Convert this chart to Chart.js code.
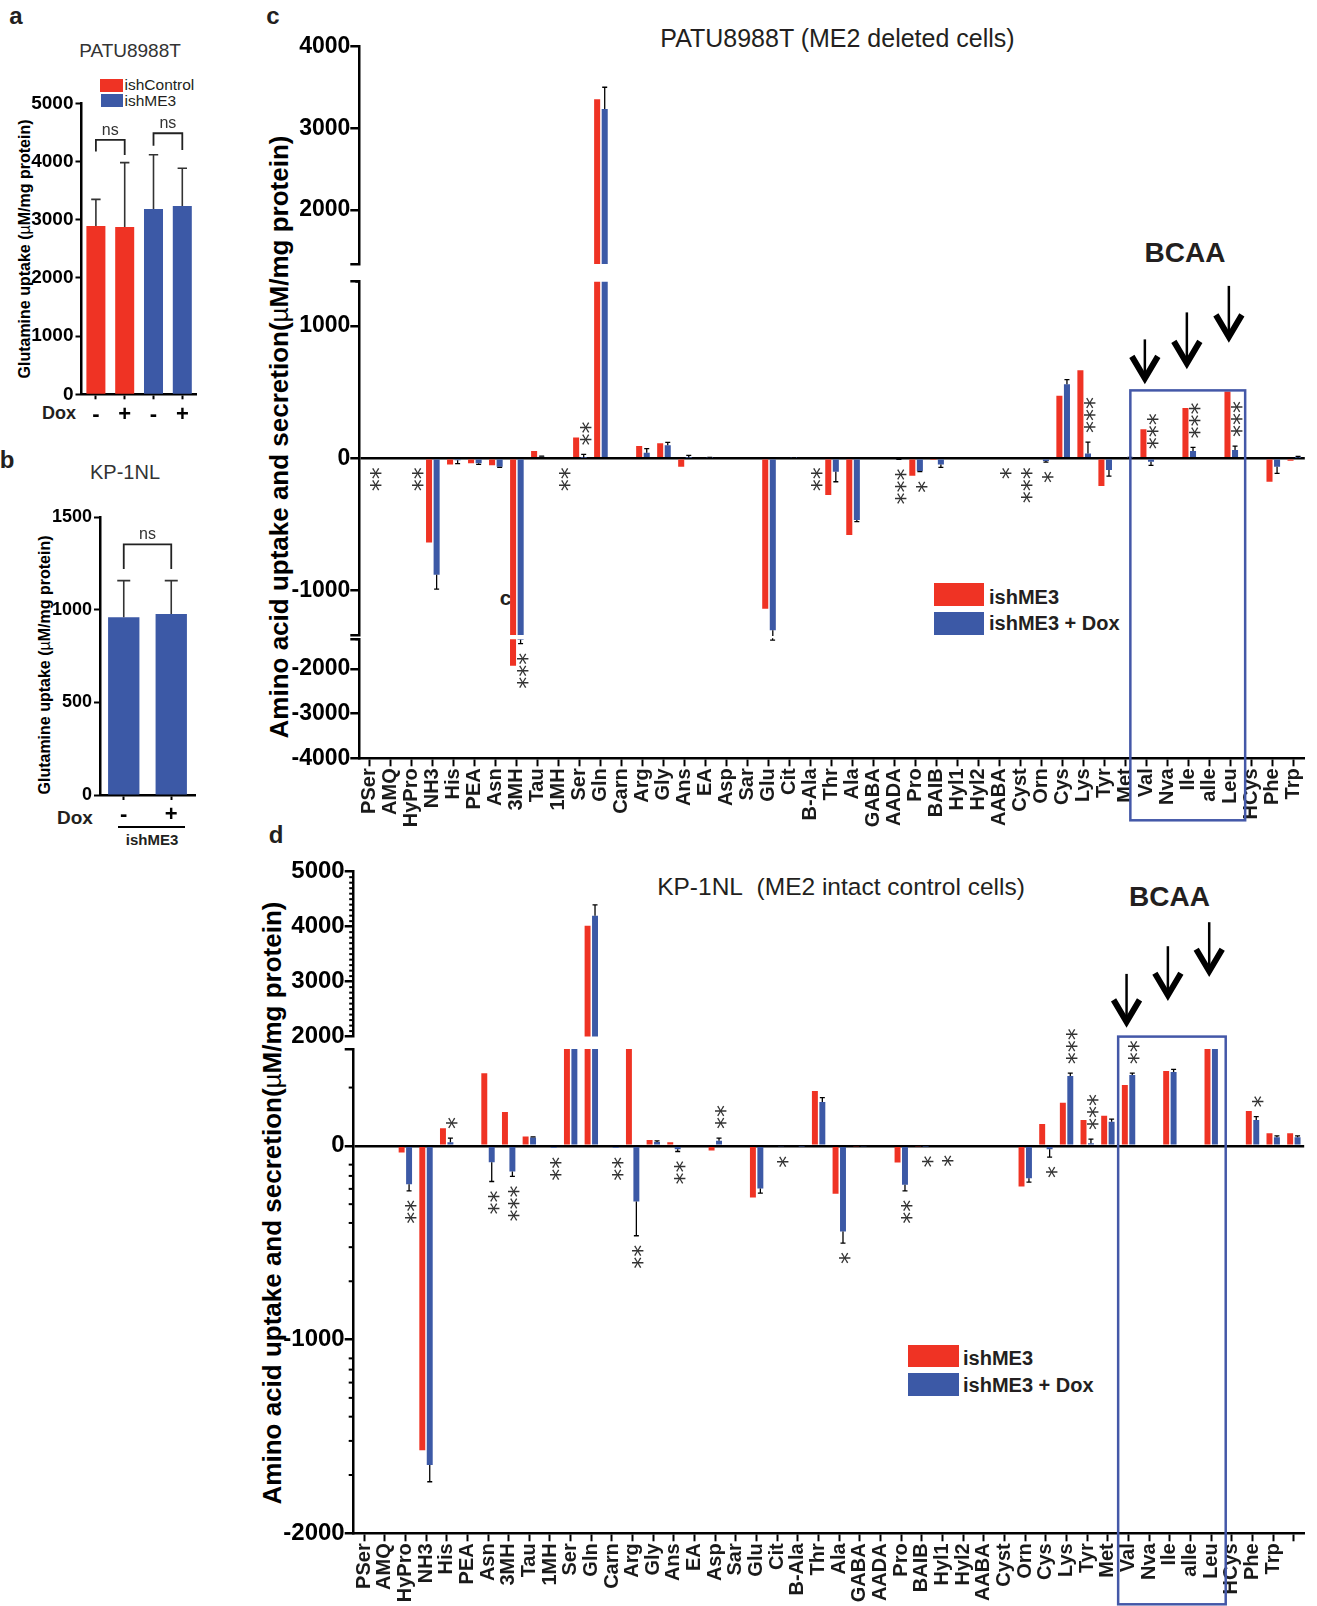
<!DOCTYPE html>
<html lang="en">
<head>
<meta charset="UTF-8" />
<title>Amino acid uptake and secretion</title>
<style>
    body { margin: 0; background: #fff; }
    #page { position: relative; width: 1317px; height: 1606px; overflow: hidden; font-family: "Liberation Sans", Arial, sans-serif; color: #231f20; }
    #page div { position: absolute; white-space: nowrap; line-height: 1; }
    #page canvas { position: absolute; }
    .c { transform: translate(-50%, -50%); }
    .l { transform: translateY(-50%); }
    .v { transform: translate(-50%, -50%) rotate(-90deg); font-weight: bold; color: #000; }
    .mu { font-weight: normal; }
    .b { font-weight: bold; }
</style>
</head>
<body>
<div id="page">
    <!-- panel a -->
    <div class="c b" style="left:16px;top:16px;font-size:24px">a</div>
    <div class="c" style="left:130px;top:50px;font-size:19px;color:#333">PATU8988T</div>
    <div style="left:100px;top:79px;width:23px;height:12.5px;background:#ef3324"></div>
    <div style="left:101px;top:93.5px;width:22px;height:13.5px;background:#3c59a6"></div>
    <div class="l" style="left:124.5px;top:85px;font-size:15.5px">ishControl</div>
    <div class="l" style="left:124.5px;top:100.5px;font-size:15.5px">ishME3</div>
    <div class="v" style="left:25px;top:249px;font-size:16px">Glutamine uptake (<span class="mu">µ</span>M/mg protein)</div>
    <div class="l b" style="left:42px;top:413px;font-size:18px">Dox</div>

    <!-- panel b -->
    <div class="c b" style="left:7px;top:460px;font-size:24px">b</div>
    <div class="c" style="left:125px;top:472px;font-size:20px;color:#333">KP-1NL</div>
    <div class="v" style="left:45px;top:665px;font-size:16px">Glutamine uptake (<span class="mu">µ</span>M/mg protein)</div>
    <div class="l b" style="left:57px;top:817px;font-size:19px">Dox</div>
    <div style="left:118px;top:826px;width:67px;height:1.5px;background:#000"></div>
    <div class="c b" style="left:152px;top:839px;font-size:15px">ishME3</div>

    <!-- panel c -->
    <div class="c b" style="left:273px;top:16px;font-size:24px">c</div>
    <div class="c b" style="left:505.5px;top:597px;font-size:21px">c</div>
    <div class="c" style="left:837.5px;top:38px;font-size:25px">PATU8988T (ME2 deleted cells)</div>
    <div class="c b" style="left:1185px;top:253px;font-size:28px">BCAA</div>
    <div class="v" style="left:278.5px;top:437px;font-size:26px">Amino acid uptake and secretion(<span class="mu">µ</span>M/mg protein)</div>
    <div style="left:934px;top:583.3px;width:50px;height:22.4px;background:#ef3324"></div>
    <div style="left:934px;top:612px;width:50px;height:22.7px;background:#3c59a6"></div>
    <div class="l b" style="left:989px;top:596.7px;font-size:20px">ishME3</div>
    <div class="l b" style="left:989px;top:623.3px;font-size:20px">ishME3 + Dox</div>

    <!-- panel d -->
    <div class="c b" style="left:276px;top:835px;font-size:24px">d</div>
    <div class="c" style="left:841px;top:887px;font-size:24.5px">KP-1NL&nbsp; (ME2 intact control cells)</div>
    <div class="c b" style="left:1169.5px;top:897px;font-size:28px">BCAA</div>
    <div class="v" style="left:272px;top:1203px;font-size:26px">Amino acid uptake and secretion(<span class="mu">µ</span>M/mg protein)</div>
    <div style="left:908px;top:1345px;width:51px;height:22px;background:#ef3324"></div>
    <div style="left:908px;top:1373px;width:51px;height:22.5px;background:#3c59a6"></div>
    <div class="l b" style="left:963px;top:1358px;font-size:20px">ishME3</div>
    <div class="l b" style="left:963px;top:1385px;font-size:20px">ishME3 + Dox</div>
</div>

<script src="https://cdn.jsdelivr.net/npm/chart.js"></script>
<script>
    // ---- data ----
    const glnLabelsA = ['-', '+', '-', '+'];
    const glnUptakeA = [2890, 2875, 3185, 3235];
    const glnErrA = [460, 1105, 930, 650];

    const glnLabelsB = ['-', '+'];
    const glnUptakeB = [960, 978];
    const glnErrB = [198, 180];

    const patuAcids = ['PSer', 'AMQ', 'HyPro', 'NH3', 'His', 'PEA', 'Asn', '3MH', 'Tau', '1MH', 'Ser', 'Gln', 'Carn', 'Arg', 'Gly',
        'Ans', 'EA', 'Asp', 'Sar', 'Glu', 'Cit', 'B-Ala', 'Thr', 'Ala', 'GABA', 'AADA', 'Pro', 'BAIB', 'Hyl1', 'Hyl2', 'AABA',
        'Cyst', 'Orn', 'Cys', 'Lys', 'Tyr', 'Met', 'Val', 'Nva', 'Ile', 'alle', 'Leu', 'HCys', 'Phe', 'Trp'];
    const patuShME3 = [0, 0, 0, -637, -46, -38, -53, -1926, 55, 0, 158, 3356, 0, 93, 115,
        -63, 0, 0, 0, -1137, 0, 0, -277, -579, 0, 0, -131, -12, 0, 0, 0,
        0, 0, 473, 666, -209, 10, 221, 0, 380, 0, 505, 0, -177, -18];
    const patuDox = [0, 0, 0, -881, -15, -38, -63, -1345, 12, 0, 5, 3237, 0, 43, 100,
        5, 2, 0, 0, -1300, 2, 0, -101, -466, 0, -5, -96, -46, 0, 0, 0,
        0, -20, 561, 37, -88, 3, -25, 0, 55, 0, 63, 0, -63, 5];
    const patuDoxErr = [0, 0, 0, 108, 25, 8, 5, 90, 5, 0, 25, 266, 0, 30, 21,
        17, 6, 0, 0, 55, 3, 0, 76, 12, 0, 3, 5, 22, 0, 0, 0,
        0, 8, 35, 86, 46, 5, 28, 0, 28, 0, 30, 0, 50, 10];

    const kpAcids = patuAcids.concat(['']);
    const kpShME3 = [0, 0, -34, -1571, 91, 0, 375, 175, 48, 0, 1500, 4018, 0, 1200, 30,
        19, 0, -24, 0, -266, 0, 0, 283, -247, -5, 0, -86, -5, 0, 0, 0,
        0, -210, 113, 222, 134, 155, 314, 0, 387, 0, 1100, 0, 180, 65, 65];
    const kpDox = [0, 0, -198, -1648, 19, 0, -84, -132, 43, -10, 1400, 4200, -10, -287, 20,
        -17, 0, 26, 0, -220, -5, -3, 227, -442, -5, 0, -201, -3, 0, 0, 0,
        0, -167, -17, 361, 14, 124, 366, 0, 381, 0, 1050, 0, 134, 45, 45];
    const kpDoxErr = [0, 0, 34, 86, 21, 0, 100, 26, 3, 0, 0, 195, 0, 177, 6,
        12, 0, 14, 0, 24, 0, 0, 22, 60, 0, 0, 31, 0, 0, 0, 0,
        0, 20, 41, 14, 21, 14, 9, 0, 14, 0, 0, 0, 17, 7, 7];

    // significance marks: [acid, text, side (1 above, -1 below)]
    const patuStars = [['PSer', '**', -1], ['HyPro', '**', -1], ['3MH', '***', -1], ['1MH', '**', -1], ['Ser', '**', 1],
        ['B-Ala', '**', -1], ['AADA', '***', -1], ['Pro', '*', -1], ['AABA', '*', -1], ['Cyst', '***', -1], ['Orn', '*', -1],
        ['Lys', '***', 1], ['Val', '***', 1], ['Ile', '***', 1], ['Leu', '***', 1]];
    const kpStars = [['HyPro', '**', -1], ['His', '*', 1], ['Asn', '**', -1], ['3MH', '***', -1], ['1MH', '**', -1],
        ['Carn', '**', -1], ['Arg', '**', -1], ['Ans', '**', -1], ['Asp', '**', 1], ['Cit', '*', -1], ['Ala', '*', -1],
        ['Pro', '**', -1], ['BAIB', '*', -1], ['Hyl1', '*', -1], ['Cys', '*', -1], ['Lys', '***', 1], ['Tyr', '***', 1],
        ['Val', '**', 1], ['Phe', '*', 1]];

    const aBrackets = [{ from: 0, to: 1, top: 4370, left: 4170, right: 4110 }, { from: 2, to: 3, top: 4485, left: 4272, right: 4198 }];
    const bBrackets = [{ from: 0, to: 1, top: 1354, left: 1221, right: 1221 }];

    // broken axis segments (break ends carry no label)
    const patuTopTicks = [1336, 2000, 3000, 4000];
    const patuMidTicks = [-1336, -1000, 0, 1000, 1336];
    const patuBotTicks = [-4000, -3000, -2000, -1336];
    const kpTopTicks = [2000, 3000, 4000, 5000];
    const kpMidTicks = [-2000, -1000, 0, 500];

    const RED = '#ef3324';
    const BLUE = '#3c59a6';
    Chart.defaults.font.family = '"Liberation Sans", Arial, sans-serif';

    const page = document.getElementById('page');

    function addCanvas(left, top, width, height) {
        const cv = document.createElement('canvas');
        cv.width = width;
        cv.height = height;
        cv.style.left = left + 'px';
        cv.style.top = top + 'px';
        page.appendChild(cv);
        return cv;
    }

    // one sided error bars for datasets carrying an "errors" array
    const errorBars = {
        id: 'errorBars',
        afterDatasetsDraw(chart) {
            const { ctx, chartArea: a, scales: { y } } = chart;
            ctx.save();
            ctx.beginPath();
            ctx.rect(a.left, a.top - 1, a.right - a.left, a.bottom - a.top + 2);
            ctx.clip();
            chart.data.datasets.forEach((ds, di) => {
                if (!ds.errors) return;
                const meta = chart.getDatasetMeta(di);
                ctx.strokeStyle = ds.errColor || '#000';
                ctx.lineWidth = ds.errWidth || 1.3;
                const cap = ds.errCap || 2.5;
                ds.data.forEach((v, i) => {
                    const e = ds.errors[i];
                    if (!e) return;
                    const end = v < 0 ? v - e : v + e;
                    const x = meta.data[i].x;
                    const y0 = y.getPixelForValue(v), y1 = y.getPixelForValue(end);
                    ctx.beginPath();
                    ctx.moveTo(x, y0);
                    ctx.lineTo(x, y1);
                    ctx.moveTo(x - cap, y1);
                    ctx.lineTo(x + cap, y1);
                    ctx.stroke();
                });
            });
            ctx.restore();
        }
    };

    function starPlugin(stars, values, errs) {
        return {
            id: 'stars',
            afterDatasetsDraw(chart) {
                const { ctx, scales: { y } } = chart;
                const meta = chart.getDatasetMeta(1);
                ctx.save();
                ctx.font = '24px "DejaVu Sans"';
                ctx.fillStyle = '#333';
                stars.forEach(([name, text, side]) => {
                    const i = chart.data.labels.indexOf(name);
                    const v = values[i], e = errs[i];
                    const anchor = side > 0 ? (v > 0 ? v + e : 0) : (v < 0 ? v - e : 0);
                    if (anchor < y.min || anchor > y.max) return;
                    const px = meta.data[i].x + 2;
                    const py = y.getPixelForValue(anchor) - side * 9;
                    ctx.save();
                    ctx.translate(px, py);
                    ctx.rotate(-Math.PI / 2);
                    ctx.textAlign = side > 0 ? 'left' : 'right';
                    const m = ctx.measureText(text);
                    ctx.fillText(text, 0, (m.actualBoundingBoxAscent - m.actualBoundingBoxDescent) / 2);
                    ctx.restore();
                });
                ctx.restore();
            }
        };
    }

    // short unlabeled ticks on the value axis (minor ticks and break caps)
    function minorTicks(values, len) {
        return {
            id: 'minorTicks',
            afterDraw(chart) {
                const { ctx, chartArea, scales: { y } } = chart;
                ctx.save();
                ctx.strokeStyle = '#000';
                ctx.lineWidth = 2;
                values.forEach(v => {
                    const py = y.getPixelForValue(v);
                    ctx.beginPath();
                    ctx.moveTo(chartArea.left - len, py);
                    ctx.lineTo(chartArea.left, py);
                    ctx.stroke();
                });
                ctx.restore();
            }
        };
    }

    function bracketPlugin(brackets) {
        return {
            id: 'brackets',
            afterDatasetsDraw(chart) {
                const { ctx, scales: { x, y } } = chart;
                ctx.save();
                ctx.strokeStyle = '#222';
                ctx.lineWidth = 1.8;
                ctx.fillStyle = '#333';
                ctx.font = '16px "Liberation Sans"';
                ctx.textAlign = 'center';
                ctx.textBaseline = 'alphabetic';
                brackets.forEach(b => {
                    const x1 = x.getPixelForValue(b.from), x2 = x.getPixelForValue(b.to);
                    const yt = y.getPixelForValue(b.top);
                    ctx.beginPath();
                    ctx.moveTo(x1, y.getPixelForValue(b.left));
                    ctx.lineTo(x1, yt);
                    ctx.lineTo(x2, yt);
                    ctx.lineTo(x2, y.getPixelForValue(b.right));
                    ctx.stroke();
                    ctx.fillText('ns', (x1 + x2) / 2, yt - 5);
                });
                ctx.restore();
            }
        };
    }

    function glnChart(cv, labels, values, errors, colors, yMax, yStep, brackets, box) {
        return new Chart(cv, {
            type: 'bar',
            data: {
                labels: labels,
                datasets: [{
                    data: values, errors: errors, backgroundColor: colors,
                    barPercentage: 0.66, categoryPercentage: 1,
                    errColor: '#333', errWidth: 1.6, errCap: box.cap
                }]
            },
            options: {
                responsive: false, animation: false, events: [],
                layout: { padding: box.pad },
                plugins: { legend: { display: false }, tooltip: { enabled: false } },
                scales: {
                    x: {
                        grid: { drawOnChartArea: false, offset: false, tickLength: 5, tickWidth: 2, tickColor: '#000' },
                        border: { color: '#000', width: 2.5 },
                        ticks: { color: '#000', padding: 2, font: { size: 22, weight: 'bold' } },
                        afterFit: s => { s.height = box.xh; }
                    },
                    y: {
                        min: 0, max: yMax,
                        ticks: { stepSize: yStep, callback: v => String(v), color: '#000', padding: 2, font: { size: box.fs, weight: 'bold' } },
                        grid: { drawOnChartArea: false, tickLength: 6, tickWidth: 2, tickColor: '#000' },
                        border: { color: '#000', width: 2.5 },
                        afterFit: s => { s.width = box.yw; }
                    }
                }
            },
            plugins: [errorBars, bracketPlugin(brackets)]
        });
    }

    function segChart(cv, seg) {
        const labelled = v => v % 1000 === 0;
        return new Chart(cv, {
            type: 'bar',
            data: {
                labels: seg.labels,
                datasets: [
                    { label: 'ishME3', data: seg.red, backgroundColor: RED, barPercentage: 0.8, categoryPercentage: 0.72, clip: 0 },
                    { label: 'ishME3 + Dox', data: seg.blue, errors: seg.err, backgroundColor: BLUE, barPercentage: 0.8, categoryPercentage: 0.72, clip: 0 }
                ]
            },
            options: {
                responsive: false, animation: false, events: [],
                layout: { padding: seg.pad },
                plugins: { legend: { display: false }, tooltip: { enabled: false } },
                scales: {
                    x: {
                        display: seg.showX, offset: true,
                        grid: { drawOnChartArea: false, offset: false, tickLength: 8, tickWidth: 2, tickColor: '#000' },
                        border: { color: '#000', width: 2.5 },
                        ticks: { autoSkip: false, minRotation: 90, maxRotation: 90, padding: 2, color: '#1a1a1a', font: { size: 20, weight: 'bold' } },
                        afterFit: s => { s.height = seg.xh; }
                    },
                    y: {
                        min: seg.range[0], max: seg.range[1],
                        afterBuildTicks: s => { s.ticks = seg.ticks.map(v => ({ value: v })); },
                        ticks: {
                            callback: v => (labelled(v) ? String(v) : ''), color: '#000', padding: 0,
                            font: c => ({ size: c.tick && !labelled(c.tick.value) ? 1 : seg.fs, weight: 'bold' })
                        },
                        grid: {
                            color: c => (c.tick && c.tick.value === 0 ? '#000' : 'rgba(0,0,0,0)'),
                            lineWidth: 2.5, tickLength: 9, tickWidth: 2.5, tickColor: '#000'
                        },
                        border: { color: '#000', width: 2.5 },
                        afterFit: s => { s.width = seg.yw; }
                    }
                }
            },
            plugins: [errorBars, starPlugin(seg.stars, seg.blue, seg.err), minorTicks(seg.minor, seg.minorLen || 4)]
        });
    }

    // ---- panels a and b ----
    glnChart(addCanvas(0, 60, 215, 370), glnLabelsA, glnUptakeA, glnErrA, [RED, RED, BLUE, BLUE], 5000, 1000, aBrackets,
        { pad: { top: 43.3, right: 18.3, bottom: 0, left: 0 }, xh: 35.7, yw: 81.5, fs: 19, cap: 4.7 });
    glnChart(addCanvas(0, 490, 215, 340), glnLabelsB, glnUptakeB, glnErrB, [BLUE, BLUE], 1500, 500, bBrackets,
        { pad: { top: 27.3, right: 20, bottom: 0, left: 0 }, xh: 35, yw: 100, fs: 18, cap: 6.5 });

    // ---- panel c ----
    const patuBase = { labels: patuAcids, red: patuShME3, blue: patuDox, err: patuDoxErr, stars: patuStars, yw: 109.3, fs: 23 };
    const c1 = segChart(addCanvas(250, 30, 1067, 250), Object.assign({}, patuBase, {
        range: [1336, 4000], ticks: patuTopTicks, minor: [1336], showX: false, xh: 0,
        pad: { top: 16.7, right: 12.2, bottom: 16, left: 0 }
    }));
    const c2 = segChart(addCanvas(250, 268, 1067, 370), Object.assign({}, patuBase, {
        range: [-1336, 1336], ticks: patuMidTicks, minor: [-1336, 1336], showX: false, xh: 0,
        pad: { top: 13.7, right: 12.2, bottom: 3, left: 0 }
    }));
    const c3 = segChart(addCanvas(250, 630, 1070, 200), Object.assign({}, patuBase, {
        range: [-4000, -1336], ticks: patuBotTicks, minor: [-1336], showX: true, xh: 71.7,
        pad: { top: 9.3, right: 12.2, bottom: 0, left: 0 }
    }));

    // ---- panel d ----
    const kpTopMinor = [];
    for (let v = 2100; v < 5000; v += 100) if (v % 1000) kpTopMinor.push(v);
    const logSteps = [2, 3, 4, 5, 6, 7, 8].map(k => Math.round(1000 * Math.log10(k)));
    const kpMidMinor = [500, logSteps[0]]
        .concat(logSteps.map(s => -1000 + s))
        .concat(logSteps.map(s => -2000 + s));

    const kpBase = { labels: kpAcids, red: kpShME3, blue: kpDox, err: kpDoxErr, stars: kpStars, yw: 103.7, fs: 24 };
    const d1 = segChart(addCanvas(250, 855, 1067, 196), Object.assign({}, kpBase, {
        range: [2000, 5000], ticks: kpTopTicks, minor: kpTopMinor, minorLen: 4.5, showX: false, xh: 0,
        pad: { top: 16.7, right: 12.9, bottom: 0, left: 0 }
    }));
    const d2 = segChart(addCanvas(250, 1000, 1070, 606), Object.assign({}, kpBase, {
        range: [-2000, 500], ticks: kpMidTicks, minor: kpMidMinor, minorLen: 5, showX: true, xh: 72.7,
        pad: { top: 49, right: 12.9, bottom: 0, left: 0 }
    }));

    // ---- BCAA boxes and arrows on top of everything ----
    const overlay = addCanvas(0, 0, 1317, 1606);
    const octx = overlay.getContext('2d');

    function catX(chart, name) {
        return chart.canvas.offsetLeft + chart.scales.x.getPixelForValue(chart.data.labels.indexOf(name));
    }
    function valY(chart, v) {
        return chart.canvas.offsetTop + chart.scales.y.getPixelForValue(v);
    }

    function drawBcaa(chart, top, bottom, edges, arrows) {
        const x0 = catX(chart, 'Val') + edges[0], x1 = catX(chart, 'Leu') + edges[1];
        octx.strokeStyle = '#4458a8';
        octx.lineWidth = 2.5;
        octx.strokeRect(x0, top, x1 - x0, bottom - top);
        octx.strokeStyle = '#000';
        ['Val', 'Ile', 'Leu'].forEach((name, i) => {
            const x = catX(chart, name) - 2;
            const tip = top + arrows[i][0];
            octx.lineWidth = 2.5;
            octx.beginPath();
            octx.moveTo(x, tip - arrows[i][1]);
            octx.lineTo(x, tip - 8);
            octx.stroke();
            octx.lineWidth = 6;
            octx.lineJoin = 'miter';
            octx.beginPath();
            octx.moveTo(x - 13, tip - 27);
            octx.lineTo(x, tip - 5);
            octx.lineTo(x + 13, tip - 27);
            octx.stroke();
        });
    }

    drawBcaa(c3, valY(c2, 514), c3.canvas.offsetTop + c3.chartArea.bottom + 62, [-16.5, 14.3],
        [[-7, 44], [-22, 56], [-48.5, 56]]);
    drawBcaa(d2, valY(d1, 2000), d2.canvas.offsetTop + d2.chartArea.bottom + 71, [-10.4, 14.5],
        [[-9.7, 53], [-36.4, 54], [-60.4, 54]]);
</script>
</body>
</html>
